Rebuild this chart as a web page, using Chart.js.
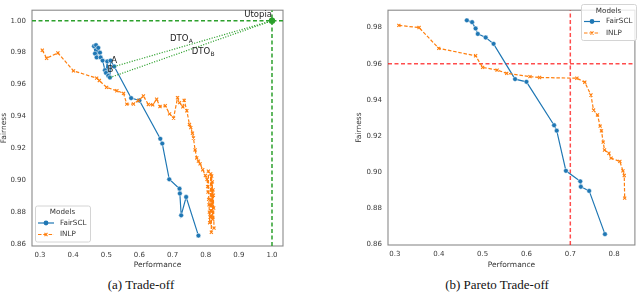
<!DOCTYPE html>
<html>
<head>
<meta charset="utf-8">
<script src="https://cdn.jsdelivr.net/npm/chart.js@4.4.0/dist/chart.umd.min.js"></script>
<style>
body { margin: 0; width: 640px; height: 295px; background: #fff; position: relative; overflow: hidden; }
canvas { position: absolute; top: 0; }
#left { left: 0; }
#right { left: 352px; }
.caption { position: absolute; top: 277px; font: normal 13px "Liberation Serif", serif; color: #111; white-space: nowrap; transform: translateX(-50%); }
</style>
</head>
<body>
<canvas id="left" width="290" height="275"></canvas>
<canvas id="right" width="288" height="275"></canvas>
<div class="caption" style="left:141px">(a) Trade-off</div>
<div class="caption" style="left:497px">(b) Pareto Trade-off</div>
<script>
// (a) all runs
let fairsclPerf = [0.463, 0.466, 0.469, 0.471, 0.476, 0.481, 0.483, 0.489, 0.496, 0.499, 0.503, 0.506, 0.511, 0.513, 0.524,
    0.575, 0.600, 0.663, 0.669, 0.690, 0.721, 0.722, 0.726, 0.741, 0.778];
let fairsclFair = [0.9840, 0.9794, 0.9847, 0.9770, 0.9830, 0.9800, 0.9770, 0.9750, 0.9690, 0.9673, 0.9745, 0.9655, 0.9644, 0.9750, 0.9713,
    0.9515, 0.9500, 0.9260, 0.9230, 0.9006, 0.8947, 0.8917, 0.8780, 0.8895, 0.8653];
let inlpPerf = [0.307, 0.320, 0.354, 0.401, 0.471, 0.479, 0.501, 0.532, 0.552, 0.562, 0.582, 0.597, 0.612, 0.627, 0.640,
    0.652, 0.662, 0.678, 0.691, 0.703, 0.715, 0.721, 0.731, 0.735, 0.743, 0.751, 0.755, 0.760, 0.763, 0.768,
    0.773, 0.778, 0.783, 0.791, 0.799, 0.804, 0.806, 0.807, 0.808, 0.809, 0.810, 0.811, 0.812, 0.813, 0.815,
    0.817, 0.818, 0.819, 0.820, 0.821, 0.822, 0.823, 0.824, 0.825];
let inlpFair = [0.9815, 0.9765, 0.9798, 0.9686, 0.9640, 0.9625, 0.9582, 0.9561, 0.9545, 0.9477, 0.9478, 0.9500, 0.9528, 0.9475, 0.9473,
    0.9508, 0.9462, 0.9467, 0.9416, 0.9390, 0.9517, 0.9487, 0.9460, 0.9501, 0.9436, 0.9350, 0.9330, 0.9295, 0.9265, 0.9190,
    0.9140, 0.9120, 0.9103, 0.9066, 0.9030, 0.9006, 0.8960, 0.8926, 0.9057, 0.8880, 0.8846, 0.8800, 0.8734, 0.8770, 0.9040,
    0.8674, 0.9027, 0.8850, 0.8990, 0.8755, 0.8940, 0.8906, 0.8826, 0.8700];
let pointA = 14;
let pointB = 12;
let utopiaPerf = 1.0;
let utopiaFair = 1.0;

// (b) pareto front
let paretoFairsclPerf = [0.464, 0.476, 0.484, 0.489, 0.507, 0.525, 0.574, 0.600, 0.663, 0.669, 0.690, 0.7227, 0.724, 0.743, 0.779];
let paretoFairsclFair = [0.9840, 0.9830, 0.9795, 0.9765, 0.9745, 0.9710, 0.9515, 0.9500, 0.9260, 0.9230, 0.9008, 0.8950, 0.8920, 0.8897, 0.8658];
let paretoInlpPerf = [0.309, 0.355, 0.400, 0.484, 0.500, 0.533, 0.555, 0.608, 0.630, 0.715, 0.733, 0.747, 0.753, 0.762, 0.768,
    0.771, 0.775, 0.778, 0.788, 0.793, 0.813, 0.820, 0.823, 0.824];
let paretoInlpFair = [0.9812, 0.9800, 0.9685, 0.9644, 0.9580, 0.9565, 0.9547, 0.9529, 0.9524, 0.9520, 0.9498, 0.9427, 0.9344, 0.9317, 0.9255,
    0.9229, 0.9167, 0.9123, 0.9105, 0.9078, 0.9060, 0.9008, 0.8982, 0.8857];
let perfThreshold = 0.70;
let fairThreshold = 0.96;

let xTicksA = [0.3, 0.4, 0.5, 0.6, 0.7, 0.8, 0.9, 1.0];
let yTicksA = [0.86, 0.88, 0.90, 0.92, 0.94, 0.96, 0.98, 1.00];
let xTicksB = [0.3, 0.4, 0.5, 0.6, 0.7, 0.8];
let yTicksB = [0.86, 0.88, 0.90, 0.92, 0.94, 0.96, 0.98];

const blue = "#1f77b4";
const orange = "#ff7f0e";
const green = "#2ca02c";
const tickColor = "#3a3a3a";
const font = "DejaVu Sans";

function pts(xs, ys) {
    return xs.map((x, i) => ({ x: x, y: ys[i] }));
}

function seriesSets(perf, fair, perf2, fair2) {
    return [
        {
            label: "FairSCL", data: pts(perf, fair), order: 2,
            borderColor: blue, backgroundColor: blue, borderWidth: 1.2,
            pointStyle: "circle", pointRadius: 2.4, pointBorderWidth: 0.5, pointBorderColor: "#fff"
        },
        {
            label: "INLP", data: pts(perf2, fair2), order: 1,
            borderColor: orange, backgroundColor: orange, borderWidth: 1.2, borderDash: [3.5, 1.8],
            pointStyle: "crossRot", pointRadius: 2.2, pointBorderWidth: 1.1, pointBorderColor: orange
        }
    ];
}

function drawLegend(ctx, bx, by) {
    ctx.save();
    ctx.beginPath();
    ctx.roundRect(bx + 0.5, by + 0.5, 55, 36, 2);
    ctx.fillStyle = "rgba(255,255,255,0.8)";
    ctx.fill();
    ctx.strokeStyle = "#d4d4d4";
    ctx.lineWidth = 1;
    ctx.stroke();
    ctx.font = "7.2px " + font;
    ctx.fillStyle = "#333";
    ctx.textAlign = "center";
    ctx.textBaseline = "middle";
    ctx.fillText("Models", bx + 27.5, by + 7);
    ctx.textAlign = "left";
    // FairSCL
    let y1 = by + 17.5;
    ctx.strokeStyle = blue;
    ctx.lineWidth = 1.2;
    ctx.beginPath(); ctx.moveTo(bx + 3, y1); ctx.lineTo(bx + 19, y1); ctx.stroke();
    ctx.fillStyle = blue;
    ctx.beginPath(); ctx.arc(bx + 11, y1, 2.4, 0, Math.PI * 2); ctx.fill();
    ctx.fillStyle = "#333";
    ctx.fillText("FairSCL", bx + 25, y1);
    // INLP
    let y2 = by + 29;
    ctx.strokeStyle = orange;
    ctx.setLineDash([3.5, 1.8]);
    ctx.beginPath(); ctx.moveTo(bx + 3, y2); ctx.lineTo(bx + 19, y2); ctx.stroke();
    ctx.setLineDash([]);
    ctx.lineWidth = 1.1;
    ctx.beginPath();
    ctx.moveTo(bx + 9.5, y2 - 1.6); ctx.lineTo(bx + 12.5, y2 + 1.6);
    ctx.moveTo(bx + 12.5, y2 - 1.6); ctx.lineTo(bx + 9.5, y2 + 1.6);
    ctx.stroke();
    ctx.fillStyle = "#333";
    ctx.fillText("INLP", bx + 25, y2);
    ctx.restore();
}

function makeOptions(cfg) {
    return {
        responsive: false,
        animation: false,
        events: [],
        layout: { padding: { top: 1, right: cfg.padRight, bottom: 0, left: 0 } },
        plugins: { legend: { display: false }, tooltip: { enabled: false } },
        scales: {
            x: {
                type: "linear", min: cfg.xMin, max: cfg.xMax,
                grid: { display: false, drawTicks: false },
                border: { display: false },
                afterBuildTicks: s => { s.ticks = cfg.xTicks.map(v => ({ value: v })); },
                afterFit: s => { s.height = cfg.xHeight; },
                ticks: { padding: 5, color: tickColor, font: { family: font, size: 7 }, maxRotation: 0, autoSkip: false,
                    callback: v => v.toFixed(1) },
                title: { display: true, text: "Performance", color: "#333", font: { family: font, size: 7.5 },
                    padding: { top: 0, bottom: 5 } }
            },
            y: {
                type: "linear", min: cfg.yMin, max: cfg.yMax,
                grid: { display: false, drawTicks: false },
                border: { display: false },
                afterBuildTicks: s => { s.ticks = cfg.yTicks.map(v => ({ value: v })); },
                afterFit: s => { s.width = cfg.yWidth; },
                ticks: { padding: 6, color: tickColor, font: { family: font, size: 7 }, autoSkip: false,
                    callback: v => v.toFixed(2) },
                title: { display: true, text: "Fairness", color: "#333", font: { family: font, size: 7.5 },
                    padding: { top: cfg.yTitlePad, bottom: 0 } }
            }
        }
    };
}

const frame = {
    id: "frame",
    beforeDatasetsDraw(chart) {
        let a = chart.chartArea;
        let ctx = chart.ctx;
        ctx.save();
        ctx.strokeStyle = "#8a8a8a";
        ctx.lineWidth = 1.1;
        ctx.strokeRect(a.left, a.top, a.right - a.left, a.bottom - a.top);
        ctx.restore();
    }
};

// ---------- (a) Trade-off ----------
let xMinA = 0.2759, xMaxA = 1.0332, yMinA = 0.8588, yMaxA = 1.0066;
let setsA = seriesSets(fairsclPerf, fairsclFair, inlpPerf, inlpFair);
setsA.push(
    { data: [{ x: xMinA, y: utopiaFair }, { x: xMaxA, y: utopiaFair }], borderColor: green, borderWidth: 1.5,
        borderDash: [4, 2.5], pointRadius: 0, order: 0 },
    { data: [{ x: utopiaPerf, y: yMinA }, { x: utopiaPerf, y: yMaxA }], borderColor: green, borderWidth: 1.5,
        borderDash: [4, 2.5], pointRadius: 0, order: 0 },
    { data: [{ x: fairsclPerf[pointA], y: fairsclFair[pointA] }, { x: utopiaPerf, y: utopiaFair }], borderColor: green,
        borderWidth: 1.2, borderDash: [1.1, 1.5], pointRadius: 0, order: 0 },
    { data: [{ x: fairsclPerf[pointB], y: fairsclFair[pointB] }, { x: utopiaPerf, y: utopiaFair }], borderColor: green,
        borderWidth: 1.2, borderDash: [1.1, 1.5], pointRadius: 0, order: 0 },
    { data: [{ x: utopiaPerf, y: utopiaFair }], showLine: false, pointStyle: "circle", pointRadius: 3.2,
        pointBorderWidth: 0, pointBackgroundColor: green, pointBorderColor: green, order: 0 }
);

const labelsA = {
    id: "labelsA",
    afterDatasetsDraw(chart) {
        let ctx = chart.ctx;
        let sx = chart.scales.x, sy = chart.scales.y;
        ctx.save();
        ctx.fillStyle = "#222";
        ctx.font = "8.5px " + font;
        ctx.textAlign = "center";
        ctx.textBaseline = "bottom";
        ctx.fillText("A", sx.getPixelForValue(fairsclPerf[pointA]), sy.getPixelForValue(fairsclFair[pointA]) - 1.5);
        ctx.fillText("B", sx.getPixelForValue(fairsclPerf[pointB]) + 0.5, sy.getPixelForValue(fairsclFair[pointB]) - 3.5);
        ctx.textAlign = "right";
        ctx.fillText("Utopia", sx.getPixelForValue(utopiaPerf), sy.getPixelForValue(utopiaFair) - 1.5);
        // DTO labels with subscripts
        ctx.textAlign = "left";
        ctx.textBaseline = "middle";
        let dto = [["A", 0.692, 0.9888], ["B", 0.7577, 0.9807]];
        dto.forEach(d => {
            let px = sx.getPixelForValue(d[1]), py = sy.getPixelForValue(d[2]);
            ctx.font = "8.5px " + font;
            ctx.fillText("DTO", px, py);
            let w = ctx.measureText("DTO").width;
            ctx.font = "6px " + font;
            ctx.fillText(d[0], px + w + 0.3, py + 2.5);
        });
        ctx.restore();
        drawLegend(ctx, 35, 205.5);
    }
};

new Chart(document.getElementById("left").getContext("2d"), {
    type: "line",
    data: { datasets: setsA },
    options: makeOptions({ xMin: xMinA, xMax: xMaxA, yMin: yMinA, yMax: yMaxA, xTicks: xTicksA, yTicks: yTicksA,
        padRight: 7, xHeight: 29, yWidth: 32, yTitlePad: 0 }),
    plugins: [frame, labelsA]
});

// ---------- (b) Pareto Trade-off ----------
let xMinB = 0.2842, xMaxB = 0.8473, yMinB = 0.8598, yMaxB = 0.9896;
let setsB = seriesSets(paretoFairsclPerf, paretoFairsclFair, paretoInlpPerf, paretoInlpFair);
setsB.push(
    { data: [{ x: xMinB, y: fairThreshold }, { x: xMaxB, y: fairThreshold }], borderColor: "rgba(255,0,0,0.7)",
        borderWidth: 1.5, borderDash: [4, 2.5], pointRadius: 0, order: 3 },
    { data: [{ x: perfThreshold, y: yMinB }, { x: perfThreshold, y: yMaxB }], borderColor: "rgba(255,0,0,0.7)",
        borderWidth: 1.5, borderDash: [4, 2.5], pointRadius: 0, order: 3 }
);

const legendB = {
    id: "legendB",
    afterDatasetsDraw(chart) {
        drawLegend(chart.ctx, 229, 4);
    }
};

new Chart(document.getElementById("right").getContext("2d"), {
    type: "line",
    data: { datasets: setsB },
    options: makeOptions({ xMin: xMinB, xMax: xMaxB, yMin: yMinB, yMax: yMaxB, xTicks: xTicksB, yTicks: yTicksB,
        padRight: 2, xHeight: 30, yWidth: 36, yTitlePad: 2.5 }),
    plugins: [frame, legendB]
});
</script>
</body>
</html>
